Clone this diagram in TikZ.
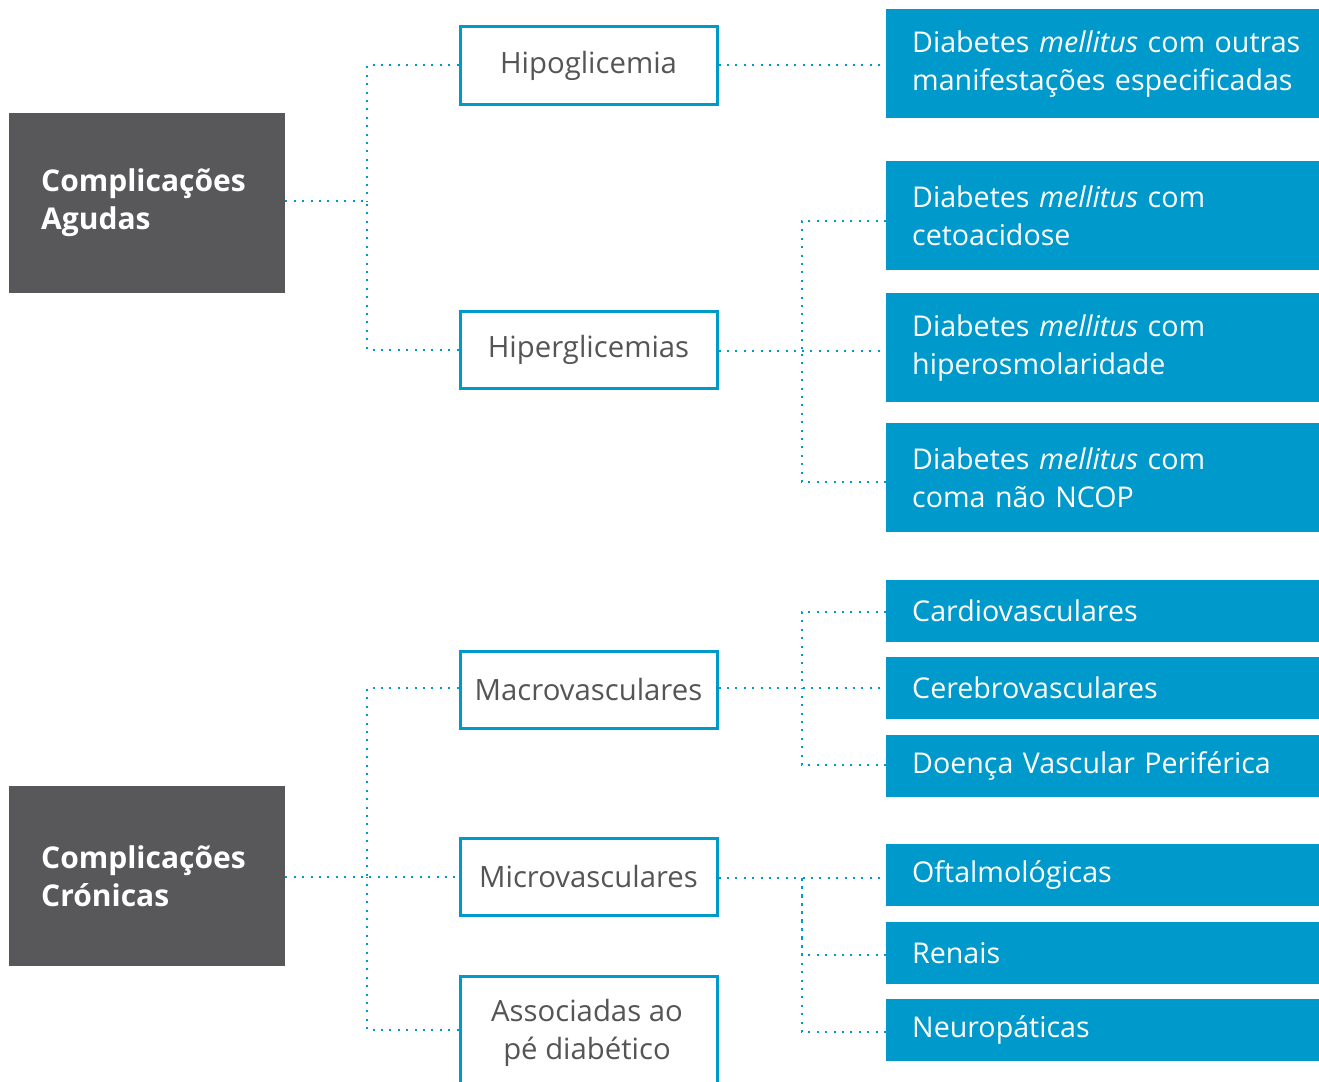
\documentclass[tikz,border=0pt]{standalone}
\usepackage{fontspec}
\setmainfont{Open Sans}
\definecolor{cblue}{HTML}{0099CC}
\definecolor{cdark}{HTML}{58585A}
\definecolor{cgray}{HTML}{555555}
\begin{document}
\begin{tikzpicture}[x=1pt,y=-1pt,
  darkbox/.style={fill=cdark, text=white, anchor=north west, minimum height=180pt,
    text width=212pt, inner xsep=32pt, align=left, font=\fontsize{30}{38}\selectfont\bfseries},
  whitebox/.style={draw=cblue, line width=3pt, fill=white, text=cgray, anchor=north west,
    minimum width=257pt, minimum height=77pt, align=center, inner sep=0pt,
    font=\fontsize{29.3}{38}\selectfont},
  bluebox/.style={fill=cblue, text=white, anchor=north west, text width=420pt, inner xsep=26pt,
    inner ysep=0pt, align=left, font=\fontsize{28.6}{38}\selectfont},
  dotline/.style={draw=cblue, line width=2pt, dash pattern=on 2pt off 6.4pt}
]
\useasboundingbox (0,0) rectangle (1319,1081);
% dark boxes
\node[darkbox, minimum width=276pt] (agudas) at (9,113) {Complicações\\Agudas};
\node[darkbox, minimum width=276pt] (cronicas) at (9,786) {Complicações\\Crónicas};
% white boxes
\node[whitebox] (hipo) at (458.5,25.5) {Hipoglicemia};
\node[whitebox] (hiper) at (458.5,309.5) {Hiperglicemias};
\node[whitebox] (macro) at (458.5,649.5) {Macrovasculares};
\node[whitebox] (micro) at (458.5,836.5) {Microvasculares};
\node[whitebox, minimum height=130pt] (assoc) at (458.5,974.5) {};
\node[text=cgray, font=\fontsize{29.3}{38}\selectfont, align=center, anchor=north] (assoct) at (587,996) {Associadas ao\\pé diabético};
% blue boxes
\node[bluebox, minimum height=109pt] (b1) at (886,9) {Diabetes \textit{mellitus} com outras\\manifestações especificadas};
\node[bluebox, minimum height=109pt] (b2) at (886,161) {Diabetes \textit{mellitus} com\\cetoacidose};
\node[bluebox, minimum height=109pt] (b3) at (886,293) {Diabetes \textit{mellitus} com\\hiperosmolaridade};
\node[bluebox, minimum height=109pt] (b4) at (886,423) {Diabetes \textit{mellitus} com\\coma não NCOP};
\node[bluebox, minimum height=62pt] (c1) at (886,580) {Cardiovasculares};
\node[bluebox, minimum height=62pt] (c2) at (886,657) {Cerebrovasculares};
\node[bluebox, minimum height=62pt] (c3) at (886,735) {Doença Vascular Periférica};
\node[bluebox, minimum height=62pt] (m1) at (886,844) {Oftalmológicas};
\node[bluebox, minimum height=62pt] (m2) at (886,922) {Renais};
\node[bluebox, minimum height=62pt] (m3) at (886,999) {Neuropáticas};
% junctions
\coordinate (ja) at (367,201);
\coordinate (jh) at (802,351);
\coordinate (jc) at (367,877);
\coordinate (jm) at (802,688);
\coordinate (jn) at (802,878);
% connectors
\draw[dotline] (agudas.east |- ja) -- (ja);
\draw[dotline] (hipo.west) -| (ja);
\draw[dotline] (hiper.west) -| (ja);
\draw[dotline] (hipo.east) -- (b1.west |- hipo.east);
\draw[dotline] (hiper.east |- jh) -- (jh);
\draw[dotline] (b2.west |- 0,221) -| (jh);
\draw[dotline] (jh) -- (b3.west |- jh);
\draw[dotline] (b4.west |- 0,482) -| (jh);
\draw[dotline] (cronicas.east |- jc) -- (micro.west |- jc);
\draw[dotline] (macro.west |- 0,688) -| (jc);
\draw[dotline] (assoc.west |- 0,1030) -| (jc);
\draw[dotline] (macro.east |- jm) -- (c2.west |- jm);
\draw[dotline] (c1.west |- 0,612) -| (jm);
\draw[dotline] (c3.west |- 0,765) -| (jm);
\draw[dotline] (micro.east |- jn) -- (m1.west |- jn);
\draw[dotline] (m2.west |- 0,955) -| (jn);
\draw[dotline] (m3.west |- 0,1032) -| (jn);
\end{tikzpicture}
\end{document}
